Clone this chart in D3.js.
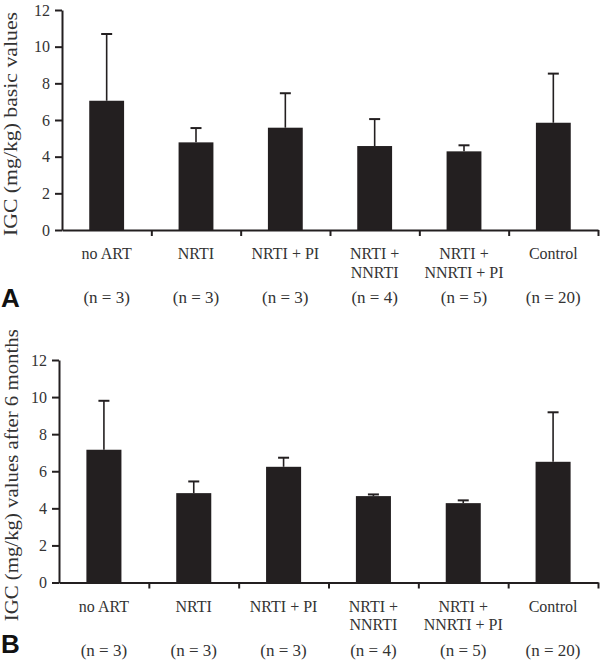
<!DOCTYPE html>
<html>
<head>
<meta charset="utf-8">
<script src="https://cdn.jsdelivr.net/npm/d3@7"></script>
<style>
  html, body { margin: 0; padding: 0; background: #fff; }
  svg { display: block; }
  .serif { font-family: "Liberation Serif", "Times New Roman", Times, serif; }
</style>
</head>
<body>
<svg id="chart" width="600" height="660"></svg>
<script>
// ---- data ----
const categories = ["no ART", "NRTI", "NRTI + PI", "NRTI + NNRTI", "NRTI + NNRTI + PI", "Control"];
const categoryLines = [["no ART"], ["NRTI"], ["NRTI + PI"], ["NRTI +", "NNRTI"], ["NRTI +", "NNRTI + PI"], ["Control"]];
const nLabels = ["(n = 3)", "(n = 3)", "(n = 3)", "(n = 4)", "(n = 5)", "(n = 20)"];
const basicMeans = [7.05, 4.78, 5.58, 4.58, 4.29, 5.85];
const basicSD = [3.64, 0.78, 1.88, 1.47, 0.33, 2.68];
const sixMonthMeans = [7.16, 4.82, 6.24, 4.66, 4.28, 6.51];
const sixMonthSD = [2.64, 0.63, 0.49, 0.09, 0.15, 2.67];
const yTicks = [0, 2, 4, 6, 8, 10, 12];
const panelLetters = ["A", "B"];
const yTitles = ["IGC (mg/kg) basic values", "IGC (mg/kg) values after 6 months"];

const ink = "#231f20";
const textCol = "#333333";

const svg = d3.select("#chart");

const panels = [
  { means: basicMeans, sd: basicSD, letter: panelLetters[0], title: yTitles[0],
    left: 62, right: 598, top: 10, bottom: 230, titleX: 17, titleLen: 224, letterY: 307 },
  { means: sixMonthMeans, sd: sixMonthSD, letter: panelLetters[1], title: yTitles[1],
    left: 59, right: 598, top: 360, bottom: 582.5, titleX: 18, titleLen: 292, letterY: 653 }
];

panels.forEach(p => {
  const g = svg.append("g");
  const x = d3.scaleBand().domain(categories).range([p.left, p.right]).paddingInner(0).paddingOuter(0);
  const xb = d3.scaleLinear().domain([0, categories.length]).range([p.left, p.right]);
  const y = d3.scaleLinear().domain([0, 12]).range([p.bottom, p.top]);
  const barW = x.bandwidth() * 0.39;
  const capW = 11;

  // bars
  g.selectAll("rect.bar").data(categories).join("rect")
    .attr("x", d => x(d) + x.bandwidth() / 2 - barW / 2)
    .attr("y", (d, i) => y(p.means[i]))
    .attr("width", barW)
    .attr("height", (d, i) => y(0) - y(p.means[i]))
    .attr("fill", ink);

  // error bars (upper only)
  const eb = g.selectAll("g.err").data(categories).join("g");
  eb.append("line")
    .attr("x1", d => x(d) + x.bandwidth() / 2)
    .attr("x2", d => x(d) + x.bandwidth() / 2)
    .attr("y1", (d, i) => y(p.means[i]))
    .attr("y2", (d, i) => y(p.means[i] + p.sd[i]))
    .attr("stroke", ink).attr("stroke-width", 1.6);
  eb.append("line")
    .attr("x1", d => x(d) + x.bandwidth() / 2 - capW / 2)
    .attr("x2", d => x(d) + x.bandwidth() / 2 + capW / 2)
    .attr("y1", (d, i) => y(p.means[i] + p.sd[i]))
    .attr("y2", (d, i) => y(p.means[i] + p.sd[i]))
    .attr("stroke", ink).attr("stroke-width", 2);

  // y axis
  const ya = g.append("g").attr("transform", `translate(${p.left},0)`)
    .call(d3.axisLeft(y).tickValues(yTicks).tickFormat(d3.format("d")).tickSize(7).tickPadding(5).tickSizeOuter(0));
  ya.attr("font-family", null).attr("font-size", null);
  ya.select(".domain").attr("stroke", ink).attr("stroke-width", 2);
  ya.selectAll(".tick line").attr("stroke", ink).attr("stroke-width", 2);
  ya.selectAll(".tick text").attr("class", "serif").style("font-size", "16px").attr("fill", textCol);

  // x axis with ticks at band boundaries
  const xa = g.append("g").attr("transform", `translate(0,${p.bottom})`)
    .call(d3.axisBottom(xb).tickValues(d3.range(1, categories.length + 1)).tickFormat("").tickSize(6).tickSizeOuter(0));
  xa.select(".domain").attr("stroke", ink).attr("stroke-width", 2);
  xa.selectAll(".tick line").attr("stroke", ink).attr("stroke-width", 2);

  // category labels
  const lab = g.selectAll("text.cat").data(categories).join("text")
    .attr("class", "cat serif")
    .attr("text-anchor", "middle")
    .style("font-size", "16px").attr("fill", textCol);
  lab.each(function(d, i) {
    const t = d3.select(this);
    categoryLines[i].forEach((ln, k) => {
      t.append("tspan").attr("x", x(d) + x.bandwidth() / 2).attr("y", p.bottom + 29 + k * 18.5).text(ln);
    });
  });
  g.selectAll("text.n").data(categories).join("text")
    .attr("class", "n serif")
    .attr("x", d => x(d) + x.bandwidth() / 2)
    .attr("y", p.bottom + 73)
    .attr("text-anchor", "middle")
    .style("font-size", "17px").attr("fill", textCol)
    .text((d, i) => nLabels[i]);

  // y title
  g.append("text")
    .attr("class", "serif")
    .attr("transform", `translate(${p.titleX},${(p.top + p.bottom) / 2 + 4}) rotate(-90)`)
    .attr("text-anchor", "middle")
    .style("font-size", "18px").attr("fill", textCol)
    .attr("textLength", p.titleLen).attr("lengthAdjust", "spacingAndGlyphs")
    .text(p.title);

  // panel letter
  g.append("text")
    .attr("x", 1).attr("y", p.letterY)
    .style("font-family", "'Liberation Sans', Arial, sans-serif").style("font-weight", "bold")
    .style("font-size", "26px").attr("fill", "#111")
    .text(p.letter);
});
</script>
</body>
</html>
